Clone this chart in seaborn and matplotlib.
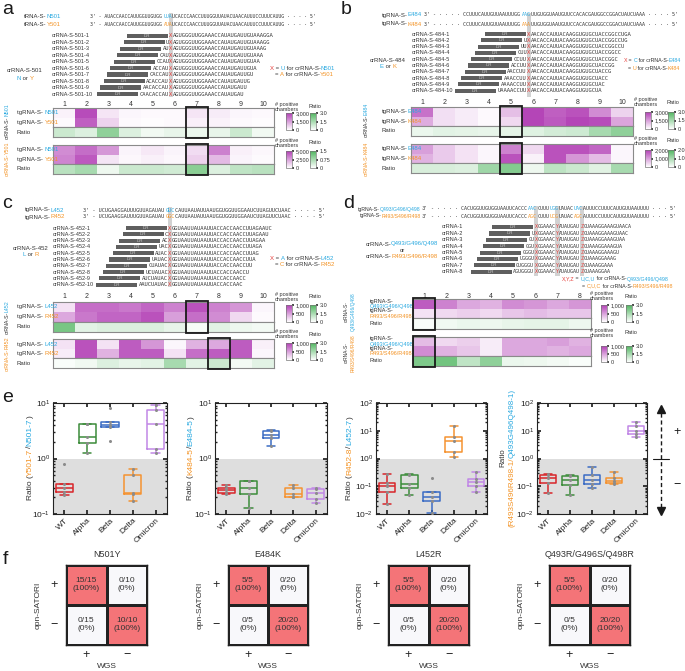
import numpy as np
import pandas as pd
import matplotlib
matplotlib.use("Agg")
import matplotlib.pyplot as plt
import seaborn as sns
from matplotlib.colors import LinearSegmentedColormap, ListedColormap
from matplotlib.patches import Rectangle

# ---------------- data ----------------
BLUE = "#29A9E0"
ORANGE = "#F39325"
RED = "#E53935"
TXT = "#333333"

# panel a
A_TG_PRE = "3' - AUACCAACCAUUGGUUGUGG"
A_TG_CODONS = ["UUA", "AUA"]
A_TG_POST = "UCACCCAACCUUUGGUUAUACUAACAUUUCCUUUCAUUG · · · · 5'"
A_CRRNA = ["XAGUGGGUUGGAAACCAUAUGAUUGUAAAGGA", "UXAGUGGGUUGGAAACCAUAUGAUUGUAAAGG",
           "AUXAGUGGGUUGGAAACCAUAUGAUUGUAAAG", "CAUXAGUGGGUUGGAAACCAUAUGAUUGUAAA",
           "CCAUXAGUGGGUUGGAAACCAUAUGAUUGUAA", "ACCAUXAGUGGGUUGGAAACCAUAUGAUUGUA",
           "CACCAUXAGUGGGUUGGAAACCAUAUGAUUGU", "ACACCAUXAGUGGGUUGGAAACCAUAUGAUUG",
           "AACACCAUXAGUGGGUUGGAAACCAUAUGAUU", "CAACACCAUXAGUGGGUUGGAAACCAUAUGAU"]
A1_COUNTS = [[200, 2800, 400, 150, 100, 100, 400, 300, 150, 100],
             [100, 2500, 700, 100, 50, 100, 250, 200, 100, 50]]
A1_RATIO = [0.9, 0.6, 1.9, 0.6, 0.25, 0.4, 0.35, 0.4, 0.9, 0.25]
A2_COUNTS = [[3000, 3800, 2700, 300, 600, 300, 900, 3300, 400, 200],
             [3200, 4300, 700, 200, 400, 200, 1200, 1800, 300, 150]]
A2_RATIO = [0.6, 0.75, 0.15, 0.45, 0.45, 0.4, 1.0, 0.3, 0.55, 0.6]

# panel b
B_TG_PRE = "3' - · · · · CCUUUCAUUGUUAAUUUGG"
B_TG_CODONS = ["AAG", "AAA"]
B_TG_POST = "UUGUGGUAAUGUUCCACACGAUGGCCGGACUAUCUAAA · · · · 5'"
B_CRRNA = ["XAACACCAUUACAAGGUGUGCUACCGGCCUGA", "UXAACACCAUUACAAGGUGUGCUACCGGCCUG",
           "UUXAACACCAUUACAAGGUGUGCUACCGGCCU", "CUUXAACACCAUUACAAGGUGUGCUACCGGCC",
           "CCUUXAACACCAUUACAAGGUGUGCUACCGGC", "ACCUUXAACACCAUUACAAGGUGUGCUACCGG",
           "AACCUUXAACACCAUUACAAGGUGUGCUACCG", "AAACCUUXAACACCAUUACAAGGUGUGCUACC",
           "AAAACCUUXAACACCAUUACAAGGUGUGCUAC", "UAAAACCUUXAACACCAUUACAAGGUGUGCUA"]
B1_COUNTS = [[2200, 500, 300, 100, 1000, 2900, 2500, 2700, 1800, 700],
             [1300, 500, 300, 100, 600, 2900, 2600, 2900, 2800, 1400]]
B1_RATIO = [0.35, 0.5, 0.45, 0.4, 0.45, 0.55, 0.75, 0.85, 1.5, 1.9]
B2_COUNTS = [[1000, 550, 300, 100, 1300, 400, 1800, 1800, 1600, 100],
             [800, 550, 300, 100, 1800, 150, 1800, 1100, 700, 100]]
B2_RATIO = [0.45, 0.45, 0.4, 1.1, 1.4, 0.2, 0.75, 0.6, 0.35, 1.0]

# panel c
C_TG_PRE = "3' - UCUGAAGGAUUUGUUAGAUAU"
C_TG_CODONS = ["GUC", "GGC"]
C_TG_POST = "CAUUAAUAUUAAUGGUGGUUGGAAUCUUAGUUCUAAC · · · · 5'"
C_CRRNA = ["XGGUAAUUAUAAUUACCACCAACCUUAGAAUC", "CXGGUAAUUAUAAUUACCACCAACCUUAGAAU",
           "ACXGGUAAUUAUAAUUACCACCAACCUUAGAA", "UACXGGUAAUUAUAAUUACCACCAACCUUAGA",
           "AUACXGGUAAUUAUAAUUACCACCAACCUUAG", "UAUACXGGUAAUUAUAAUUACCACCAACCUUA",
           "CUAUACXGGUAAUUAUAAUUACCACCAACCUU", "UCUAUACXGGUAAUUAUAAUUACCACCAACCU",
           "AUCUAUACXGGUAAUUAUAAUUACCACCAACC", "AAUCUAUACXGGUAAUUAUAAUUACCACCAAC"]
C1_COUNTS = [[150, 750, 750, 700, 800, 650, 900, 650, 550, 50],
             [450, 700, 800, 800, 900, 500, 750, 600, 200, 30]]
C1_RATIO = [2.3, 0.5, 0.6, 0.6, 0.6, 0.4, 0.15, 0.5, 0.3, 0.2]
C2_COUNTS = [[150, 900, 150, 850, 550, 50, 400, 450, 850, 80],
             [100, 900, 400, 850, 850, 150, 750, 850, 850, 50]]
C2_RATIO = [0.1, 0.25, 0.6, 0.4, 0.5, 1.5, 0.5, 0.9, 0.2, 0.5]

# panel d
D_TG_PRE = "- · · · · CACUGGUUGUGGUAAUUCACCC"
D_TG_CODONS = [["AAC", "UGG", "UAC"], ["AGC", "UCG", "AGC"]]
D_TG_LINKS = ["CUUU", "UAUAC", "AUUUCCUUUCAUUGUUAAUUUU · · · 5'"]
D_CRRNA = ["XGGAAACYAUAUGAUZGUAAAGGAAAGUAACA", "UXGGAAACYAUAUGAUZGUAAAGGAAAGUAAC",
           "GUXGGAAACYAUAUGAUZGUAAAGGAAAGUAA", "GGUXGGAAACYAUAUGAUZGUAAAGGAAAGUA",
           "GGGUXGGAAACYAUAUGAUZGUAAAGGAAAGU", "UGGGUXGGAAACYAUAUGAUZGUAAAGGAAAG",
           "GUGGGUXGGAAACYAUAUGAUZGUAAAGGAAA", "AGUGGGUXGGAAACYAUAUGAUZGUAAAGGAA"]
D1_COUNTS = [[850, 650, 450, 400, 600, 550, 450, 550],
             [150, 200, 250, 200, 300, 350, 300, 300]]
D1_RATIO = [0.1, 0.25, 0.35, 0.3, 0.4, 0.45, 0.45, 0.3]
D2_COUNTS = [[350, 200, 250, 100, 450, 450, 500, 400],
             [600, 400, 300, 100, 450, 450, 400, 450]]
D2_RATIO = [2.2, 2.4, 1.1, 1.9, 0.35, 0.3, 0.2, 0.1]

# panel e
VARIANTS = ["WT", "Alpha", "Beta", "Delta", "Omicron"]
VARIANT_COLORS = ["#D8262A", "#3C8C3A", "#3B6CC4", "#F59331", "#C187E6"]
E1_VALUES = [[0.22, 0.25, 0.30, 0.35, 0.81], [1.28, 1.9, 2.4, 4.1, 4.1],
             [2.1, 3.7, 4.0, 4.5, 8.1], [0.17, 0.23, 0.24, 0.51, 0.65],
             [1.25, 1.5, 4.1, 7.4, 9.2]]
E2_VALUES = [[0.23, 0.24, 0.27, 0.30, 0.34], [0.13, 0.23, 0.29, 0.40, 0.40],
             [1.65, 2.3, 2.6, 3.1, 3.3], [0.20, 0.20, 0.23, 0.30, 0.33],
             [0.16, 0.19, 0.24, 0.28, 0.29]]
E3_VALUES = [[0.023, 0.06, 0.10, 0.13, 0.28], [0.047, 0.09, 0.12, 0.26, 0.27],
             [0.011, 0.03, 0.04, 0.06, 0.2], [1.18, 1.65, 4.1, 5.8, 14.5],
             [0.06, 0.10, 0.14, 0.18, 0.33]]
E4_VALUES = [[0.058, 0.13, 0.20, 0.26, 0.28], [0.05, 0.11, 0.17, 0.24, 0.25],
             [0.09, 0.12, 0.17, 0.26, 0.5], [0.12, 0.13, 0.16, 0.20, 0.33],
             [6.0, 7.4, 10.0, 14.6, 20.0]]

# panel f
F_TITLES = ["N501Y", "E484K", "L452R", "Q493R/G496S/Q498R"]
F_FRACTIONS = [[["15/15", "0/10"], ["0/15", "10/10"]],
               [["5/5", "0/20"], ["0/5", "20/20"]],
               [["5/5", "0/20"], ["0/5", "20/20"]],
               [["5/5", "0/20"], ["0/5", "20/20"]]]
F_PERCENTS = [["100%", "0%"], ["0%", "100%"]]
F_TICKS = ["+", "−"]

# ---------------- figure ----------------
W, H = 685, 671
sns.set_theme(style="white")
plt.rcParams["font.family"] = ["Liberation Sans", "DejaVu Sans"]
MONO = "DejaVu Sans Mono"

fig = plt.figure(figsize=(W / 100, H / 100), dpi=100)
ov = fig.add_axes([0, 0, 1, 1])
ov.set_xlim(0, W)
ov.set_ylim(H, 0)
ov.axis("off")
ov.set_zorder(10)
renderer = fig.canvas.get_renderer()

PURPLE = LinearSegmentedColormap.from_list("pur", ["#ffffff", "#b23fb5"])
GREEN = LinearSegmentedColormap.from_list("grn", ["#ffffff", "#4fb55f"])


def px_axes(x0, y0, x1, y1):
    return fig.add_axes([x0 / W, 1 - y1 / H, (x1 - x0) / W, (y1 - y0) / H])


def tw(s, size):
    t = ov.text(0, 0, "|" + s + "|", fontsize=size)
    w1 = t.get_window_extent(renderer).width
    t.set_text("||")
    w2 = t.get_window_extent(renderer).width
    t.remove()
    return w1 - w2


def rich(x, y, parts, size=4.3, ha="left", rot=0):
    widths = [tw(s, size) for s, _ in parts]
    total = sum(widths)
    pos = {"left": 0, "center": -total / 2, "right": -total}[ha]
    for (s, c), w in zip(parts, widths):
        if rot == 0:
            ov.text(x + pos, y, s, color=c, fontsize=size, ha="left", va="center")
        else:
            ov.text(x, y - pos, s, color=c, fontsize=size, rotation=90,
                    rotation_mode="anchor", ha="left", va="center")
        pos += w


def seq(x_col, y, segs, i_col, p):
    fs = p / (0.602 * 100 / 72)
    off = 0
    for s, c in segs:
        ov.text(x_col + (off - i_col) * p - p / 2, y, s, fontsize=fs,
                family=MONO, color=c, ha="left", va="center")
        off += len(s)


def cr_rows(x_col, y0, dy, seqs, p, label_x, names, bar_w=41):
    for k, s in enumerate(seqs):
        y = y0 + k * dy
        segs, cur = [], ""
        for ch in s:
            if ch in "XYZ":
                if cur:
                    segs.append((cur, TXT))
                segs.append((ch, RED))
                cur = ""
            else:
                cur += ch
        if cur:
            segs.append((cur, TXT))
        i_col = s.index("X")
        seq(x_col, y, segs, i_col, p)
        right = x_col - (i_col + 0.5) * p - 1.5
        ov.add_patch(Rectangle((right - bar_w, y - 2.1), bar_w, 4.2,
                               color="#5f5f5f", lw=0, zorder=2))
        ov.text(right - bar_w / 2, y, "DR", fontsize=3.2, color="#c8c8c8",
                ha="center", va="center")
        ov.text(label_x, y, names[k], fontsize=4, color=TXT, ha="left", va="center")


def hm_block(x0, x1, yt, ym, yb, counts, ratio, vmax, rmax, hl, pbox, gbox,
             plabels, glabels, lab_y):
    axc = px_axes(x0, yt, x1, ym)
    axr = px_axes(x0, ym, x1, yb)
    cp = px_axes(*pbox)
    cg = px_axes(*gbox)
    sns.heatmap(np.array(counts), ax=axc, cmap=PURPLE, vmin=0, vmax=vmax,
                cbar_ax=cp, xticklabels=False, yticklabels=False)
    sns.heatmap(np.array([ratio]), ax=axr, cmap=GREEN, vmin=0, vmax=rmax,
                cbar_ax=cg, xticklabels=False, yticklabels=False)
    for ax in (axc, axr):
        for sp in ax.spines.values():
            sp.set_visible(True)
            sp.set_color("#8a8a8a")
            sp.set_linewidth(0.8)
    for ax, top, labs in ((axc, vmax, plabels), (axr, rmax, glabels)):
        cb = ax.collections[0].colorbar
        cb.set_ticks([0, top / 2, top])
        cb.set_ticklabels(labs)
        cb.ax.tick_params(labelsize=4, length=1.5, pad=1, colors=TXT, right=True)
        cb.outline.set_edgecolor("#777777")
        cb.outline.set_linewidth(0.5)
    n = len(ratio)
    cw = (x1 - x0) / n
    ov.add_patch(Rectangle((x0 + (hl - 1) * cw, yt - 1), cw, yb - yt + 2,
                           fill=False, ec="k", lw=1.3, zorder=4))
    ov.text((pbox[0] + pbox[2]) / 2 - 2, lab_y, "# positive\nchambers", fontsize=4,
            color=TXT, ha="center", va="center", linespacing=1.0)
    ov.text((gbox[0] + gbox[2]) / 2 + 2, lab_y, "Ratio", fontsize=4, color=TXT,
            ha="center", va="center")
    return (yt + (ym - yt) / 4, yt + 3 * (ym - yt) / 4, (ym + yb) / 2)


def tg_rows(x_col, y0, y1, label_x, labels, pre, codons, post, i_col, p):
    for y, lab, cod, col in ((y0, labels[0], codons[0], BLUE),
                             (y1, labels[1], codons[1], ORANGE)):
        rich(label_x, y, [(lab[0], TXT), (lab[1], col)])
        seq(x_col, y, [(pre, TXT), (cod, col), (post, TXT)], i_col, p)


def numbers(x0, x1, y, n):
    cw = (x1 - x0) / n
    for i in range(n):
        ov.text(x0 + (i + 0.5) * cw, y, str(i + 1), fontsize=5, color=TXT,
                ha="center", va="center")


VS = 3.8  # size of the vertical crRNA labels

# panel letters
for lab, x, y in (("a", 2, 9), ("b", 341, 9), ("c", 2, 203), ("d", 343, 203),
                  ("e", 2, 398), ("f", 3, 559)):
    ov.text(x, y, lab, fontsize=14, color="k", ha="left", va="center")

# ---------- panel a ----------
XA = 171
ov.add_patch(Rectangle((XA - 2, 13), 4.2, 84, color="#d2d2d2", lw=0, zorder=0))
tg_rows(XA, 17, 25, 24, [("tRNA-S-", "N501"), ("tRNA-S-", "Y501")],
        A_TG_PRE, A_TG_CODONS, A_TG_POST, len(A_TG_PRE) + 2, 2.95)
cr_rows(XA, 35.7, 6.48, A_CRRNA, 3.3, 52, [f"crRNA-S-501-{i}" for i in range(1, 11)])
rich(25, 71, [("crRNA-S-501", TXT)], ha="center")
rich(25, 78, [("N", BLUE), (" or ", TXT), ("Y", ORANGE)], ha="center")
rich(270, 68, [("X", RED), (" = ", TXT), ("U", BLUE), (" for crRNA-S-", TXT), ("N501", BLUE)])
rich(275, 75, [("= ", TXT), ("A", ORANGE), (" for crRNA-S-", TXT), ("Y501", ORANGE)])
numbers(53, 274, 104, 10)
r = hm_block(53, 274, 108, 127, 137, A1_COUNTS, A1_RATIO, 3000, 3.0, 7,
             (286, 113, 292, 130), (310, 113, 316, 130),
             ["0", "1,500", "3,000"], ["0", "1.5", "3.0"], 107)
rich(17, r[0], [("tgRNA-S- ", TXT), ("N501", BLUE)])
rich(17, r[1], [("tgRNA-S- ", TXT), ("Y501", ORANGE)])
rich(17, r[2], [("Ratio", TXT)])
rich(7, 121, [("crRNA-S-", TXT), ("N501", BLUE)], ha="center", rot=90, size=VS)
r = hm_block(53, 274, 145, 164, 174, A2_COUNTS, A2_RATIO, 5000, 1.5, 7,
             (286, 151, 292, 168), (310, 151, 316, 168),
             ["0", "2,500", "5,000"], ["0", "0.75", "1.5"], 143)
rich(17, r[0], [("tgRNA-S- ", TXT), ("N501", BLUE)])
rich(17, r[1], [("tgRNA-S- ", TXT), ("Y501", ORANGE)])
rich(17, r[2], [("Ratio", TXT)])
rich(7, 159, [("crRNA-S-", ORANGE), ("Y501", ORANGE)], ha="center", rot=90, size=VS)

# ---------- panel b ----------
XB = 529
ov.add_patch(Rectangle((XB - 2, 13), 4.2, 84, color="#d2d2d2", lw=0, zorder=0))
tg_rows(XB, 15, 24, 382, [("tgRNA-S-", "E484"), ("tgRNA-S-", "K484")],
        B_TG_PRE, B_TG_CODONS, B_TG_POST, len(B_TG_PRE) + 2, 3.03)
cr_rows(XB, 34, 6.3, B_CRRNA, 3.35, 412, [f"crRNA-S-484-{i}" for i in range(1, 11)])
rich(388, 60, [("crRNA-S-484", TXT)], ha="center")
rich(388, 67, [("E", BLUE), (" or ", TXT), ("K", ORANGE)], ha="center")
rich(624, 61, [("X", RED), (" = ", TXT), ("C", BLUE), (" for crRNA-S-", TXT), ("E484", BLUE)],
     size=3.8)
rich(628, 68, [("= ", TXT), ("U", ORANGE), (" for crRNA-S-", TXT), ("K484", ORANGE)],
     size=3.8)
numbers(411, 633, 103, 10)
r = hm_block(411, 633, 107, 126, 136, B1_COUNTS, B1_RATIO, 3000, 3.0, 5,
             (645, 112, 651, 129), (668, 112, 674, 129),
             ["0", "1,500", "3,000"], ["0", "1.5", "3.0"], 102)
rich(382, r[0], [("tgRNA-S-", TXT), ("E484", BLUE)])
rich(382, r[1], [("tgRNA-S-", TXT), ("K484", ORANGE)])
rich(382, r[2], [("Ratio", TXT)])
rich(366, 120, [("crRNA-S-", TXT), ("E484", BLUE)], ha="center", rot=90, size=VS)
r = hm_block(411, 633, 144, 163, 173, B2_COUNTS, B2_RATIO, 2000, 2.0, 5,
             (645, 150, 651, 167), (668, 150, 674, 167),
             ["0", "1,000", "2,000"], ["0", "1.0", "2.0"], 141)
rich(382, r[0], [("tgRNA-S-", TXT), ("E484", BLUE)])
rich(382, r[1], [("tgRNA-S-", TXT), ("K484", ORANGE)])
rich(382, r[2], [("Ratio", TXT)])
rich(366, 159, [("crRNA-S-", ORANGE), ("K484", ORANGE)], ha="center", rot=90, size=VS)

# ---------- panel c ----------
XC = 170
ov.add_patch(Rectangle((XC - 2, 207), 4.2, 80, color="#d2d2d2", lw=0, zorder=0))
tg_rows(XC, 210, 217, 25, [("tgRNA-S-", "L452"), ("tgRNA-S-", "R452")],
        C_TG_PRE, C_TG_CODONS, C_TG_POST, len(C_TG_PRE) + 1, 3.15)
cr_rows(XC, 228, 6.3, C_CRRNA, 3.3, 53, [f"crRNA-S-452-{i}" for i in range(1, 11)])
rich(31, 248, [("crRNA-S-452", TXT)], ha="center")
rich(31, 255, [("L", BLUE), (" or ", TXT), ("R", ORANGE)], ha="center")
rich(270, 258, [("X", RED), (" = ", TXT), ("A", BLUE), (" for crRNA-S-", TXT), ("L452", BLUE)])
rich(275, 265, [("= ", TXT), ("C", ORANGE), (" for crRNA-S-", TXT), ("R452", ORANGE)])
numbers(53, 274, 297, 10)
r = hm_block(53, 274, 302, 321.7, 331.7, C1_COUNTS, C1_RATIO, 1000, 3.0, 7,
             (286, 305, 292, 322), (310, 305, 316, 322),
             ["0", "500", "1,000"], ["0", "1.5", "3.0"], 297)
rich(17, r[0], [("tgRNA-S- ", TXT), ("L452", BLUE)])
rich(17, r[1], [("tgRNA-S- ", TXT), ("R452", ORANGE)])
rich(17, r[2], [("Ratio", TXT)])
rich(7, 317, [("crRNA-S-", TXT), ("L452", BLUE)], ha="center", rot=90, size=VS)
r = hm_block(53, 274, 339.3, 358.3, 368.3, C2_COUNTS, C2_RATIO, 1000, 3.0, 8,
             (286, 343, 292, 360), (310, 343, 316, 360),
             ["0", "500", "1,000"], ["0", "1.5", "3.0"], 334)
rich(17, r[0], [("tgRNA-S- ", TXT), ("L452", BLUE)])
rich(17, r[1], [("tgRNA-S- ", TXT), ("R452", ORANGE)])
rich(17, r[2], [("Ratio", TXT)])
rich(7, 354, [("crRNA-S-", ORANGE), ("R452", ORANGE)], ha="center", rot=90, size=VS)

# ---------- panel d ----------
XD, PD = 536, 3.05
for k in (0, 7, 15):
    ov.add_patch(Rectangle((XD + k * PD - 2, 206), 4.2, 70, color="#d2d2d2", lw=0, zorder=0))
i_d = len(D_TG_PRE) + 2
for y, lab, cods, col in ((209, "Q493/G496/Q498", D_TG_CODONS[0], BLUE),
                          (216, "R493/S496/R498", D_TG_CODONS[1], ORANGE)):
    rich(426, y, [("tgRNA-S-", TXT), (lab, col), (" 3'", TXT)], size=3.7, ha="right")
    seq(XD, y, [(D_TG_PRE, TXT), (cods[0], col), (D_TG_LINKS[0], TXT), (cods[1], col),
                (D_TG_LINKS[1], TXT), (cods[2], col), (D_TG_LINKS[2], TXT)], i_d, PD)
cr_rows(XD, 227, 6.4, D_CRRNA, PD, 442, [f"crRNA-{i}" for i in range(1, 9)])
rich(402, 244, [("crRNA-S-", TXT), ("Q493/G496/Q498", BLUE)], ha="center")
rich(402, 250, [("or", TXT)], ha="center")
rich(402, 256, [("crRNA-S-", TXT), ("R493/S496/R498", ORANGE)], ha="center")
rich(562, 279, [("X,Y,Z", RED), (" = ", TXT), ("U,C,U", BLUE), (" for crRNA-S-", TXT),
                ("Q493/G496/Q498", BLUE)], size=3.8)
rich(582, 286, [("= ", TXT), ("C,U,C", ORANGE), (" for crRNA-S-", TXT),
                ("R493/S496/R498", ORANGE)], size=3.8)
numbers(413, 591, 296, 8)
r = hm_block(413, 591, 299, 318.3, 329, D1_COUNTS, D1_RATIO, 1000, 3.0, 1,
             (601, 305, 607, 322), (626, 305, 632, 322),
             ["0", "500", "1,000"], ["0", "1.5", "3.0"], 296)
for rc, lab, col in ((r[0], "Q493/G496/Q498", BLUE), (r[1], "R493/S496/R498", ORANGE)):
    rich(370, rc - 2.6, [("tgRNA-S-", TXT)], size=4)
    rich(370, rc + 2.6, [(lab, col)], size=4)
rich(370, r[2], [("Ratio", TXT)], size=4)
rich(346, 312, [("crRNA-S-", TXT)], ha="center", rot=90, size=3.5)
rich(353, 312, [("Q493/G496/Q498", BLUE)], ha="center", rot=90, size=3.5)
r = hm_block(413, 591, 336.7, 356, 366, D2_COUNTS, D2_RATIO, 1000, 3.0, 1,
             (601, 346, 607, 362), (626, 346, 632, 362),
             ["0", "500", "1,000"], ["0", "1.5", "3.0"], 333)
for rc, lab, col in ((r[0], "Q493/G496/Q498", BLUE), (r[1], "R493/S496/R498", ORANGE)):
    rich(370, rc - 2.6, [("tgRNA-S-", TXT)], size=4)
    rich(370, rc + 2.6, [(lab, col)], size=4)
rich(370, r[2], [("Ratio", TXT)], size=4)
rich(346, 353, [("crRNA-S-", TXT)], ha="center", rot=90, size=3.5)
rich(353, 353, [("R493/S496/R498", ORANGE)], ha="center", rot=90, size=3.5)

# ---------- panel e ----------
E_SPECS = [
    (E1_VALUES, (53, 403, 167, 514), (0.1, 10), 30,
     [("Ratio (", TXT), ("Y501-7", ORANGE), ("/", TXT), ("N501-7", BLUE), (")", TXT)]),
    (E2_VALUES, (215, 403, 327, 514), (0.1, 10), 191,
     [("Ratio (", TXT), ("K484-5", ORANGE), ("/", TXT), ("E484-5", BLUE), (")", TXT)]),
    (E3_VALUES, (376, 403, 487, 514), (0.01, 100), 350,
     [("Ratio (", TXT), ("R452-8", ORANGE), ("/", TXT), ("L452-7", BLUE), (")", TXT)]),
    (E4_VALUES, (537, 403, 647, 514), (0.01, 100), 512,
     [("(R493S496R498-1/", ORANGE), ("Q493G496Q498-1)", BLUE)]),
]
for values, box, ylim, lx, lab in E_SPECS:
    ax = px_axes(*box)
    df = pd.DataFrame([(g, v) for g, vals in zip(VARIANTS, values) for v in vals],
                      columns=["variant", "ratio"])
    sns.boxplot(data=df, x="variant", y="ratio", hue="variant", palette=VARIANT_COLORS,
                fill=False, width=0.75, linewidth=1.1, log_scale=True, showfliers=False,
                legend=False, ax=ax)
    sns.stripplot(data=df, x="variant", y="ratio", color="#8c8c8c", size=2.2,
                  jitter=False, log_scale=True, ax=ax, zorder=3)
    ax.set_ylim(*ylim)
    ax.set_xlim(-0.5, 4.5)
    ax.axhspan(ylim[0], 1, facecolor="#dedede", lw=0, zorder=0)
    ax.set_facecolor("white")
    for sp in ax.spines.values():
        sp.set_visible(True)
        sp.set_color("#222222")
        sp.set_linewidth(0.8)
    ax.tick_params(which="both", direction="in", left=True, right=True, top=True,
                   bottom=True, colors="#222222", labelsize=6, pad=2)
    ax.tick_params(which="major", length=3)
    ax.tick_params(which="minor", length=1.5)
    ax.set_xticks(range(5))
    ax.set_xticklabels(VARIANTS, rotation=45, ha="right", rotation_mode="anchor", fontsize=6)
    ax.set_xlabel("")
    ax.set_ylabel("")
    rich(lx, 458, lab, size=5.8 if lx == 512 else 6, ha="center", rot=90)
rich(503, 458, [("Ratio", TXT)], size=5.8, ha="center", rot=90)

# direction arrow
ov.plot([661, 661], [413, 507], ls=(0, (3, 2)), color="k", lw=1)
ov.plot(661, 409, marker="^", ms=6, color="k")
ov.plot(661, 511, marker="v", ms=6, color="k")
ov.plot([653, 669], [459, 459], color="k", lw=0.8)
ov.text(677, 432, "+", fontsize=9, ha="center", va="center", color="k")
ov.text(677, 485, "−", fontsize=9, ha="center", va="center", color="k")

# ---------- panel f ----------
F_BOXES = [(66, 565, 147, 645), (228, 565, 308, 645), (388, 565, 469, 645), (549, 565, 630, 645)]
MATCH = np.array([[1, 0], [0, 1]])
for title, frac, box in zip(F_TITLES, F_FRACTIONS, F_BOXES):
    ax = px_axes(*box)
    annot = np.array([[f"{frac[i][j]}\n({F_PERCENTS[i][j]})" for j in range(2)] for i in range(2)])
    sns.heatmap(MATCH, annot=annot, fmt="", cmap=ListedColormap(["#f8f8fb", "#f47478"]),
                cbar=False, linewidths=0.8, linecolor="#222222",
                annot_kws={"fontsize": 6, "color": TXT}, xticklabels=F_TICKS,
                yticklabels=F_TICKS, ax=ax)
    for sp in ax.spines.values():
        sp.set_visible(True)
        sp.set_color("#222222")
        sp.set_linewidth(1)
    ax.set_yticklabels(F_TICKS, rotation=0)
    ax.tick_params(axis="y", length=0, labelsize=9, pad=6, colors="#222222")
    ax.tick_params(axis="x", length=0, labelsize=9, pad=3, colors="#222222")
    ax.set_title(title, fontsize=6.5, color=TXT, pad=6)
    ax.set_xlabel("WGS", fontsize=6, color=TXT, labelpad=1)
    ax.set_ylabel("opn-SATORI", fontsize=6, color=TXT, labelpad=6)

fig.savefig("out.png", dpi=100)
